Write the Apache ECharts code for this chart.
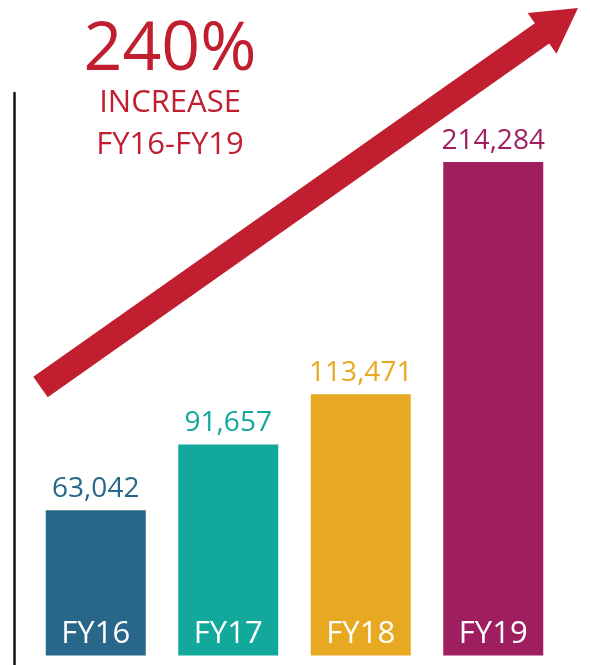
<!DOCTYPE html>
<html>
<head>
<meta charset="utf-8">
<script src="https://cdn.jsdelivr.net/npm/echarts@6/dist/echarts.min.js"></script>
<style>
  html, body { margin: 0; padding: 0; background: #fff; }
  #main { width: 590px; height: 665px; }
</style>
</head>
<body>
<div id="main"></div>
<script>
// 数据
var years = ['FY16', 'FY17', 'FY18', 'FY19'];
var totals = [63042, 91657, 113471, 214284];
var barColors = ['#286789', '#13a89c', '#e7a922', '#9f1e5f'];
var headline = ['240%', 'INCREASE', 'FY16-FY19'];

var RED = '#c11f30';
var FONT = '"Open Sans", "Noto Sans", sans-serif';

// 箭头：从左下角指向右上角
function arrowPoints(sx, sy, tx, ty, shaftHalf, headLen, headHalf) {
    var dx = tx - sx, dy = ty - sy;
    var len = Math.sqrt(dx * dx + dy * dy);
    var ux = dx / len, uy = dy / len;
    var nx = -uy, ny = ux;
    var bx = tx - ux * headLen, by = ty - uy * headLen;
    return [
        [sx - nx * shaftHalf, sy - ny * shaftHalf],
        [bx - nx * shaftHalf, by - ny * shaftHalf],
        [bx - nx * headHalf, by - ny * headHalf],
        [tx, ty],
        [bx + nx * headHalf, by + ny * headHalf],
        [bx + nx * shaftHalf, by + ny * shaftHalf],
        [sx + nx * shaftHalf, sy + ny * shaftHalf]
    ];
}

var chart = echarts.init(document.getElementById('main'), null, { renderer: 'canvas' });

var option = {
    backgroundColor: '#fff',
    animation: false,
    grid: { left: 29.5, right: 30.5, top: 93, bottom: 0, containLabel: false },
    xAxis: {
        type: 'category',
        data: years,
        axisLine: { show: false },
        axisTick: { show: false },
        axisLabel: {
            inside: true,
            margin: 15,
            color: '#fff',
            fontSize: 31,
            fontFamily: FONT
        },
        z: 10
    },
    yAxis: {
        type: 'value',
        min: -4100,
        max: 244200,
        offset: 15.5,
        splitLine: { show: false },
        axisTick: { show: false },
        axisLabel: { show: false },
        axisLine: { show: true, lineStyle: { color: '#111', width: 2.5 } }
    },
    series: [{
        type: 'bar',
        barWidth: 100,
        data: totals.map(function (v, i) {
            return {
                value: v,
                itemStyle: { color: barColors[i] },
                label: { color: barColors[i] }
            };
        }),
        label: {
            show: true,
            position: 'top',
            distance: 7,
            fontSize: 28,
            fontFamily: FONT,
            formatter: function (p) {
                return p.value.toLocaleString('en-US');
            }
        }
    }],
    graphic: [
        {
            type: 'polygon',
            z: 20,
            shape: { points: arrowPoints(40.5, 387, 578, 8, 12.5, 44, 25) },
            style: { fill: RED }
        },
        {
            type: 'text', x: 170, y: 51,
            style: { text: headline[0], fill: RED, font: '68px ' + FONT, textAlign: 'center', textVerticalAlign: 'middle' }
        },
        {
            type: 'text', x: 170, y: 103,
            style: { text: headline[1], fill: RED, font: '31px ' + FONT, textAlign: 'center', textVerticalAlign: 'middle' }
        },
        {
            type: 'text', x: 170, y: 145,
            style: { text: headline[2], fill: RED, font: '31px ' + FONT, textAlign: 'center', textVerticalAlign: 'middle' }
        }
    ]
};

chart.setOption(option);
</script>
</body>
</html>
